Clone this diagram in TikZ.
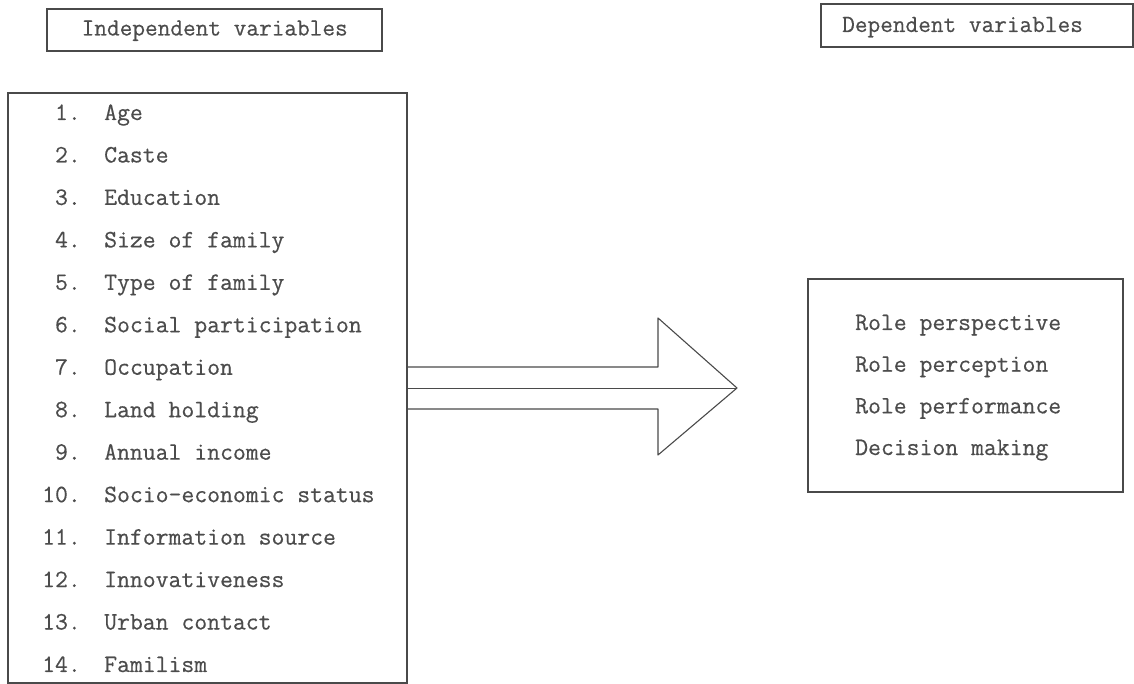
\documentclass[tikz,border=0pt]{standalone}
\usepackage{fontspec}
\setmonofont{Latin Modern Mono}[FakeBold=0.4]
\begin{document}
\begin{tikzpicture}[x=1pt,y=-1pt,
  frame/.style={draw=linegray,line width=1.1pt,inner sep=0pt},
  txt/.style={text=textgray,inner sep=0pt,anchor=base west,font=\ttfamily\fontsize{25}{28}\selectfont},
  num/.style={text=textgray,inner sep=0pt,anchor=base east,font=\ttfamily\fontsize{25}{28}\selectfont},
  ttl/.style={text=textgray,inner sep=0pt,anchor=base west,font=\ttfamily\fontsize{24.6}{28}\selectfont},
  arrowline/.style={draw=linegray,line width=1.1pt,line join=round}]
\definecolor{linegray}{HTML}{4A4A4A}
\definecolor{textgray}{HTML}{4C4C4C}
\useasboundingbox[fill=white] (0,0) rectangle (1134,684);

% title boxes
\node[frame,minimum width=335pt,minimum height=42pt] (indbox) at (214.5,30) {};
\node[ttl] (indtitle) at (81.5,35.5) {Independent variables};
\node[frame,minimum width=312pt,minimum height=43pt] (depbox) at (977,25.5) {};
\node[ttl] (deptitle) at (842,32) {Dependent variables};

% left list box
\node[frame,minimum width=399pt,minimum height=590pt] (listbox) at (207.5,388) {};
\foreach \i/\t in {1/Age,2/Caste,3/Education,4/Size of family,5/Type of family,
  6/Social participation,7/Occupation,8/Land holding,9/Annual income,
  10/Socio-economic status,11/Information source,12/Innovativeness,
  13/Urban contact,14/Familism}{
  \node[num] (n\i) at (81,{120+42.46*(\i-1)}) {\i.};
  \node[txt] (v\i) at (104,{120+42.46*(\i-1)}) {\t};
}

% right box
\node[frame,minimum width=315pt,minimum height=213pt] (depvars) at (965.5,385.5) {};
\node[txt] (d1) at (855,330) {Role perspective};
\node[txt] (d2) at (855,371.7) {Role perception};
\node[txt] (d3) at (855,413.4) {Role performance};
\node[txt] (d4) at (855,455) {Decision making};

% big arrow
\coordinate (sTop) at (listbox.east |- 0,367);
\coordinate (sMid) at (listbox.east |- 0,388);
\coordinate (sBot) at (listbox.east |- 0,409);
\coordinate (hTop) at (658,318);
\coordinate (hBot) at (658,455);
\coordinate (tip) at (737,388);
\draw[arrowline] (sTop) -- (658,367) -- (hTop) -- (tip) -- (hBot) -- (658,409) -- (sBot);
\draw[draw=linegray,line width=0.9pt] (sMid) -- (tip);
\end{tikzpicture}
\end{document}
